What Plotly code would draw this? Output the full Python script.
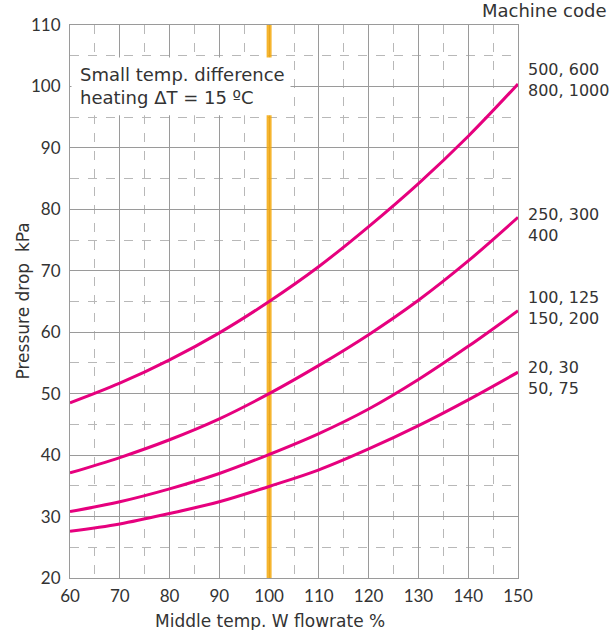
import plotly.graph_objects as go

flowrate = [60, 70, 80, 90, 100, 110, 120, 130, 140, 150]
dp_500_1000 = [48.5, 51.7, 55.5, 59.9, 65.0, 70.7, 77.2, 84.2, 91.9, 100.4]
dp_250_400 = [37.1, 39.6, 42.5, 45.9, 50.0, 54.6, 59.6, 65.2, 71.6, 78.7]
dp_100_200 = [30.8, 32.4, 34.5, 37.0, 40.1, 43.5, 47.5, 52.3, 57.7, 63.5]
dp_20_75 = [27.6, 28.8, 30.5, 32.4, 34.9, 37.6, 41.0, 44.8, 49.0, 53.5]

series = [
    ("500, 600<br>800, 1000", dp_500_1000),
    ("250, 300<br>400", dp_250_400),
    ("100, 125<br>150, 200", dp_100_200),
    ("20, 30<br>50, 75", dp_20_75),
]
x_ticks = [60, 70, 80, 90, 100, 110, 120, 130, 140, 150]
y_ticks = [20, 30, 40, 50, 60, 70, 80, 90, 100, 110]
design_flow = 100
note_text = "Small temp. difference<br>heating ΔT = 15 ºC"
legend_title = "Machine code"
x_title = "Middle temp. W flowrate %"
y_title = "Pressure drop  kPa"

# pixel offsets of the right-hand labels (style only)
label_yshift = [4, -8, 3, -6]

FONT = "'DejaVu Sans', sans-serif"
TICKFONT = "Lato, sans-serif"
TXT = "#333333"
PINK = "#E6007E"
GRID = "#9a9a9a"
MINOR = "#b8b8b8"

fig = go.Figure()
for name, vals in series:
    fig.add_trace(go.Scatter(
        x=flowrate, y=vals, mode="lines", name=name.replace("<br>", " "),
        line=dict(color=PINK, width=3, shape="spline", smoothing=1.0),
        showlegend=False, hoverinfo="skip"))

# orange design-flow line
fig.add_shape(type="line", x0=design_flow, x1=design_flow, y0=20, y1=110,
              xref="x", yref="y", layer="between",
              line=dict(color="rgba(245,168,10,0.85)", width=5))

# white note box
fig.add_shape(type="rect", x0=60.3, x1=104.3, y0=95.3, y1=104.7,
              xref="x", yref="y", layer="above",
              fillcolor="white", line=dict(width=0))
fig.add_annotation(x=61.6, y=100, xref="x", yref="y", text=note_text,
                   showarrow=False, xanchor="left", yanchor="middle", align="left",
                   font=dict(family=FONT, size=18, color=TXT))

# right side labels
for (name, vals), ys in zip(series, label_yshift):
    fig.add_annotation(x=flowrate[-1], y=vals[-1], xref="x", yref="y", text=name,
                       showarrow=False, xanchor="left", yanchor="middle", align="left",
                       xshift=8, yshift=ys,
                       font=dict(family=FONT, size=16, color=TXT))
fig.add_annotation(x=1, y=1, xref="paper", yref="paper", text=legend_title,
                   showarrow=False, xanchor="right", yanchor="bottom",
                   xshift=90, yshift=2,
                   font=dict(family=FONT, size=18, color=TXT))

# axis titles
fig.add_annotation(x=0.446, y=0, xref="paper", yref="paper", text=x_title,
                   showarrow=False, xanchor="center", yanchor="middle", yshift=-43,
                   font=dict(family=FONT, size=17, color=TXT))
fig.add_annotation(x=0, y=0.5, xref="paper", yref="paper", text=y_title,
                   showarrow=False, xanchor="center", yanchor="middle", xshift=-48,
                   textangle=-90, font=dict(family=FONT, size=17, color=TXT))

fig.update_xaxes(range=[60, 150], tickvals=x_ticks, showgrid=True, gridcolor=GRID,
                 gridwidth=1, showline=True, linecolor=GRID, mirror=True, zeroline=False,
                 ticks="", tickfont=dict(family=TICKFONT, size=17, color=TXT),
                 ticklabelstandoff=3, automargin=False,
                 minor=dict(dtick=5, tick0=60, showgrid=True, gridcolor=MINOR,
                            griddash="dash", gridwidth=1, ticks=""))
fig.update_yaxes(range=[20, 110], tickvals=y_ticks, showgrid=True, gridcolor=GRID,
                 gridwidth=1, showline=True, linecolor=GRID, mirror=True, zeroline=False,
                 ticks="", tickfont=dict(family=TICKFONT, size=17, color=TXT),
                 ticklabelstandoff=5, automargin=False,
                 minor=dict(dtick=5, tick0=20, showgrid=True, gridcolor=MINOR,
                            griddash="dash", gridwidth=1, ticks=""))

fig.update_layout(width=610, height=630, margin=dict(l=70, r=92, t=25, b=52),
                  plot_bgcolor="white", paper_bgcolor="white",
                  font=dict(family=FONT, color=TXT))
fig.write_html("out.html", config={"displayModeBar": False},
               post_script="document.body.style.margin='0';")
